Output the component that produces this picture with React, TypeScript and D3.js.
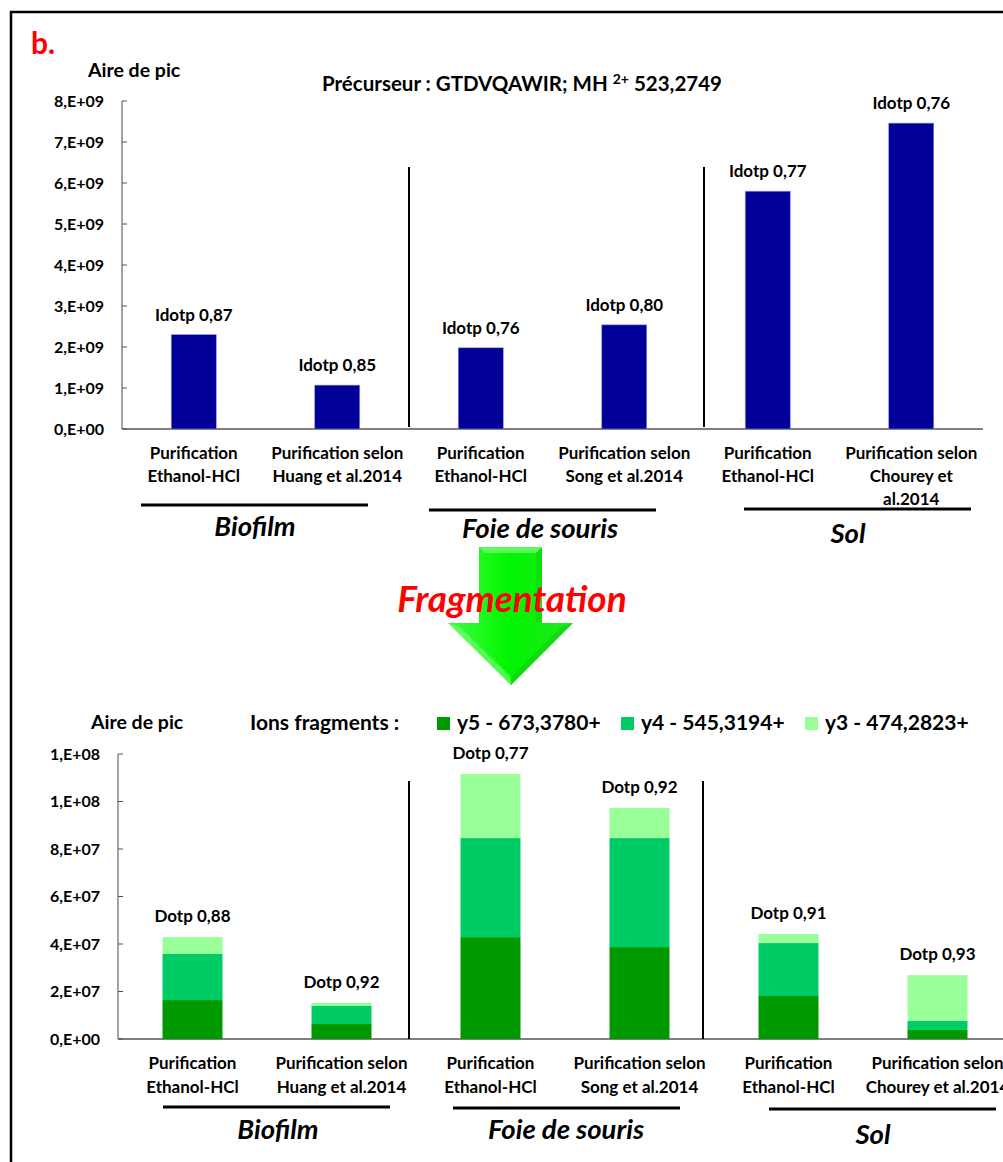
import { useEffect, useRef } from "react"
import * as d3 from "d3"

// categories (same order in both panels)
const categories = ["bio-eth", "bio-huang", "foie-eth", "foie-song", "sol-eth", "sol-chourey"]

const topCatLabels = [
  ["Purification", "Ethanol-HCl"],
  ["Purification selon", "Huang et al.2014"],
  ["Purification", "Ethanol-HCl"],
  ["Purification selon", "Song et al.2014"],
  ["Purification", "Ethanol-HCl"],
  ["Purification selon", "Chourey et", "al.2014"],
]
const bottomCatLabels = [
  ["Purification", "Ethanol-HCl"],
  ["Purification selon", "Huang et al.2014"],
  ["Purification", "Ethanol-HCl"],
  ["Purification selon", "Song et al.2014"],
  ["Purification", "Ethanol-HCl"],
  ["Purification selon", "Chourey et al.2014"],
]

// precursor peak area
const precursorArea = [2.3e9, 1.07e9, 1.98e9, 2.54e9, 5.8e9, 7.46e9]
const idotp = ["Idotp 0,87", "Idotp 0,85", "Idotp 0,76", "Idotp 0,80", "Idotp 0,77", "Idotp 0,76"]

// fragment ions (stacked)
const y5 = [1.64e7, 0.63e7, 4.29e7, 3.87e7, 1.81e7, 0.38e7]
const y4 = [1.94e7, 0.76e7, 4.17e7, 4.59e7, 2.23e7, 0.38e7]
const y3 = [0.71e7, 0.13e7, 2.7e7, 1.27e7, 0.38e7, 1.93e7]
const dotp = ["Dotp 0,88", "Dotp 0,92", "Dotp 0,77", "Dotp 0,92", "Dotp 0,91", "Dotp 0,93"]

const ionNames = ["y5 - 673,3780+", "y4 - 545,3194+", "y3 - 474,2823+"]
const ionColors = ["#009900", "#00cc66", "#99ff99"]

const topTicks = [0, 1e9, 2e9, 3e9, 4e9, 5e9, 6e9, 7e9, 8e9]
const topTickLabels = ["0,E+00", "1,E+09", "2,E+09", "3,E+09", "4,E+09", "5,E+09", "6,E+09", "7,E+09", "8,E+09"]
const bottomTicks = [0, 2e7, 4e7, 6e7, 8e7, 1e8, 1.2e8]
const bottomTickLabels = ["0,E+00", "2,E+07", "4,E+07", "6,E+07", "8,E+07", "1,E+08", "1,E+08"]

const groups = ["Biofilm", "Foie de souris", "Sol"]

const FONT = "Lato, 'Open Sans', sans-serif"

export default function App() {
  const svgRef = useRef<SVGSVGElement>(null)

  useEffect(() => {
    document.body.style.margin = "0"
    if (!svgRef.current) return
    const svg = d3.select(svgRef.current)
    svg.selectAll("*").remove()
    svg.style("font-family", FONT)

    // frame
    svg.append("path")
      .attr("d", "M11,1170 L11,12 L1010,12")
      .attr("fill", "none")
      .attr("stroke", "#000")
      .attr("stroke-width", 2.5)

    svg.append("text")
      .attr("x", 31).attr("y", 54)
      .attr("fill", "#ff0000")
      .style("font-size", "30px").style("font-weight", "700")
      .text("b.")

    // ---------- top panel ----------
    const xTop = d3.scaleBand<string>().domain(categories).range([122, 983])
    const yTop = d3.scaleLinear().domain([0, 8e9]).range([429, 101])
    const topBarW = 45

    svg.append("text")
      .attr("x", 88).attr("y", 77)
      .style("font-size", "19.5px").style("font-weight", "700")
      .text("Aire de pic")

    const title = svg.append("text")
      .attr("x", 522).attr("y", 91)
      .attr("text-anchor", "middle")
      .style("font-size", "20.5px").style("font-weight", "700")
    title.append("tspan").text("Précurseur : GTDVQAWIR; MH ")
    title.append("tspan").attr("dy", -7).style("font-size", "14px").text("2+")
    title.append("tspan").attr("dy", 7).text(" 523,2749")

    drawAxis(svg, yTop, topTicks, topTickLabels, 122, 104, 983)

    svg.append("g").selectAll("rect")
      .data(precursorArea)
      .join("rect")
      .attr("x", (_, i) => xTop(categories[i])! + xTop.bandwidth() / 2 - topBarW / 2)
      .attr("y", (d) => yTop(d))
      .attr("width", topBarW)
      .attr("height", (d) => yTop(0) - yTop(d))
      .attr("fill", "#000099")
      .attr("stroke", "#8f8fd8")
      .attr("stroke-width", 0.6)

    svg.append("g").selectAll("text")
      .data(precursorArea)
      .join("text")
      .attr("x", (_, i) => xTop(categories[i])! + xTop.bandwidth() / 2)
      .attr("y", (d) => yTop(d) - 14)
      .attr("text-anchor", "middle")
      .style("font-size", "17px").style("font-weight", "700")
      .text((_, i) => idotp[i])

    drawCatLabels(svg, xTop, topCatLabels, 459, 23)

    // separators + group lines
    ;[409, 704].forEach((x) => {
      svg.append("line").attr("x1", x).attr("x2", x).attr("y1", 167).attr("y2", 427)
        .attr("stroke", "#000").attr("stroke-width", 2)
    })
    const topGroupLines = [[141, 368, 505], [429, 656, 510], [744, 971, 509]]
    const topGroupText = [[255, 536], [540, 538], [848, 543]]
    drawGroups(svg, topGroupLines, topGroupText)

    // ---------- arrow ----------
    const defs = svg.append("defs")
    const grad = defs.append("linearGradient").attr("id", "arrowGrad")
      .attr("x1", "0").attr("x2", "1").attr("y1", "0").attr("y2", "0")
    grad.append("stop").attr("offset", "0%").attr("stop-color", "#3dff3d")
    grad.append("stop").attr("offset", "50%").attr("stop-color", "#00f500")
    grad.append("stop").attr("offset", "100%").attr("stop-color", "#1fe81f")

    const arrowPts = [[479, 547], [542, 547], [542, 623], [573, 623], [511, 685], [448, 623], [479, 623]]
    svg.append("polygon")
      .attr("points", arrowPts.map((p) => p.join(",")).join(" "))
      .attr("fill", "url(#arrowGrad)")
    // bevel facets
    svg.append("polygon").attr("points", "479,547 542,547 536,553 485,553").attr("fill", "#7dff7d").attr("opacity", 0.7)
    svg.append("polygon").attr("points", "448,623 511,685 511,677 460,627").attr("fill", "#7dff7d").attr("opacity", 0.6)
    svg.append("polygon").attr("points", "573,623 511,685 511,677 561,627").attr("fill", "#10c810").attr("opacity", 0.5)
    svg.append("polygon").attr("points", "542,547 542,623 536,623 536,553").attr("fill", "#10c810").attr("opacity", 0.4)

    svg.append("text")
      .attr("x", 512).attr("y", 612)
      .attr("text-anchor", "middle")
      .attr("fill", "#ff0000")
      .style("font-size", "37px").style("font-weight", "700").style("font-style", "italic")
      .text("Fragmentation")

    // ---------- bottom panel ----------
    const xBot = d3.scaleBand<string>().domain(categories).range([118, 1012])
    const yBot = d3.scaleLinear().domain([0, 1.2e8]).range([1039, 754])
    const botBarW = 60

    svg.append("text")
      .attr("x", 91).attr("y", 729)
      .style("font-size", "19.5px").style("font-weight", "700")
      .text("Aire de pic")
    svg.append("text")
      .attr("x", 250).attr("y", 730)
      .style("font-size", "21px").style("font-weight", "700")
      .text("Ions fragments :")

    const legendX = [437, 621, 805]
    ionNames.forEach((name, i) => {
      svg.append("rect").attr("x", legendX[i]).attr("y", 717).attr("width", 13).attr("height", 13)
        .attr("fill", ionColors[i])
      svg.append("text").attr("x", legendX[i] + 20).attr("y", 730)
        .style("font-size", "21px").style("font-weight", "700")
        .text(name)
    })

    drawAxis(svg, yBot, bottomTicks, bottomTickLabels, 118, 100, 1010)

    const table = categories.map((c, i) => ({ cat: c, y5: y5[i], y4: y4[i], y3: y3[i] }))
    const stack = d3.stack<any>().keys(["y5", "y4", "y3"])(table)

    svg.append("g").selectAll("g")
      .data(stack)
      .join("g")
      .attr("fill", (_, i) => ionColors[i])
      .selectAll("rect")
      .data((d) => d)
      .join("rect")
      .attr("x", (d) => xBot(d.data.cat)! + xBot.bandwidth() / 2 - botBarW / 2)
      .attr("y", (d) => yBot(d[1]))
      .attr("width", botBarW)
      .attr("height", (d) => yBot(d[0]) - yBot(d[1]))

    const totals = table.map((d) => d.y5 + d.y4 + d.y3)
    svg.append("g").selectAll("text")
      .data(totals)
      .join("text")
      .attr("x", (_, i) => xBot(categories[i])! + xBot.bandwidth() / 2)
      .attr("y", (d) => yBot(d) - 15)
      .attr("text-anchor", "middle")
      .style("font-size", "17px").style("font-weight", "700")
      .text((_, i) => dotp[i])

    drawCatLabels(svg, xBot, bottomCatLabels, 1069, 24)

    ;[409, 703].forEach((x) => {
      svg.append("line").attr("x1", x).attr("x2", x).attr("y1", 781).attr("y2", 1039)
        .attr("stroke", "#000").attr("stroke-width", 2)
    })
    const botGroupLines = [[163, 390, 1107], [453, 680, 1108], [769, 996, 1109]]
    const botGroupText = [[278, 1139], [566, 1139], [873, 1144]]
    drawGroups(svg, botGroupLines, botGroupText)
  }, [])

  return (
    <svg
      ref={svgRef}
      width={1003}
      height={1162}
      style={{ position: "absolute", left: 0, top: 0, background: "#fff" }}
    />
  )
}

function drawAxis(svg: any, y: any, ticks: number[], labels: string[], x0: number, labelX: number, xEnd: number) {
  const g = svg.append("g")
  g.append("line")
    .attr("x1", x0).attr("x2", x0)
    .attr("y1", y(ticks[ticks.length - 1])).attr("y2", y(0))
    .attr("stroke", "#868686").attr("stroke-width", 1.5)
  g.selectAll("line.tick")
    .data(ticks)
    .join("line")
    .attr("class", "tick")
    .attr("x1", x0).attr("x2", x0 + 5)
    .attr("y1", (d: number) => y(d)).attr("y2", (d: number) => y(d))
    .attr("stroke", "#555").attr("stroke-width", 1)
  g.selectAll("text")
    .data(ticks)
    .join("text")
    .attr("x", labelX)
    .attr("y", (d: number) => y(d))
    .attr("dy", "0.36em")
    .attr("text-anchor", "end")
    .style("font-size", "16px").style("font-weight", "700")
    .text((_: number, i: number) => labels[i])
  g.append("line")
    .attr("x1", x0).attr("x2", xEnd)
    .attr("y1", y(0)).attr("y2", y(0))
    .attr("stroke", "#555").attr("stroke-width", 1.5)
}

function drawCatLabels(svg: any, x: any, labels: string[][], y0: number, lh: number) {
  labels.forEach((lines, i) => {
    const t = svg.append("text")
      .attr("text-anchor", "middle")
      .style("font-size", "17px").style("font-weight", "700")
    lines.forEach((line, j) => {
      t.append("tspan")
        .attr("x", x(categories[i]) + x.bandwidth() / 2)
        .attr("y", y0 + j * lh)
        .text(line)
    })
  })
}

function drawGroups(svg: any, lines: number[][], texts: number[][]) {
  lines.forEach(([a, b, yy]) => {
    svg.append("line").attr("x1", a).attr("x2", b).attr("y1", yy).attr("y2", yy)
      .attr("stroke", "#000").attr("stroke-width", 3)
  })
  groups.forEach((name, i) => {
    svg.append("text")
      .attr("x", texts[i][0]).attr("y", texts[i][1])
      .attr("text-anchor", "middle")
      .style("font-size", "27.5px").style("font-weight", "700").style("font-style", "italic")
      .text(name)
  })
}
